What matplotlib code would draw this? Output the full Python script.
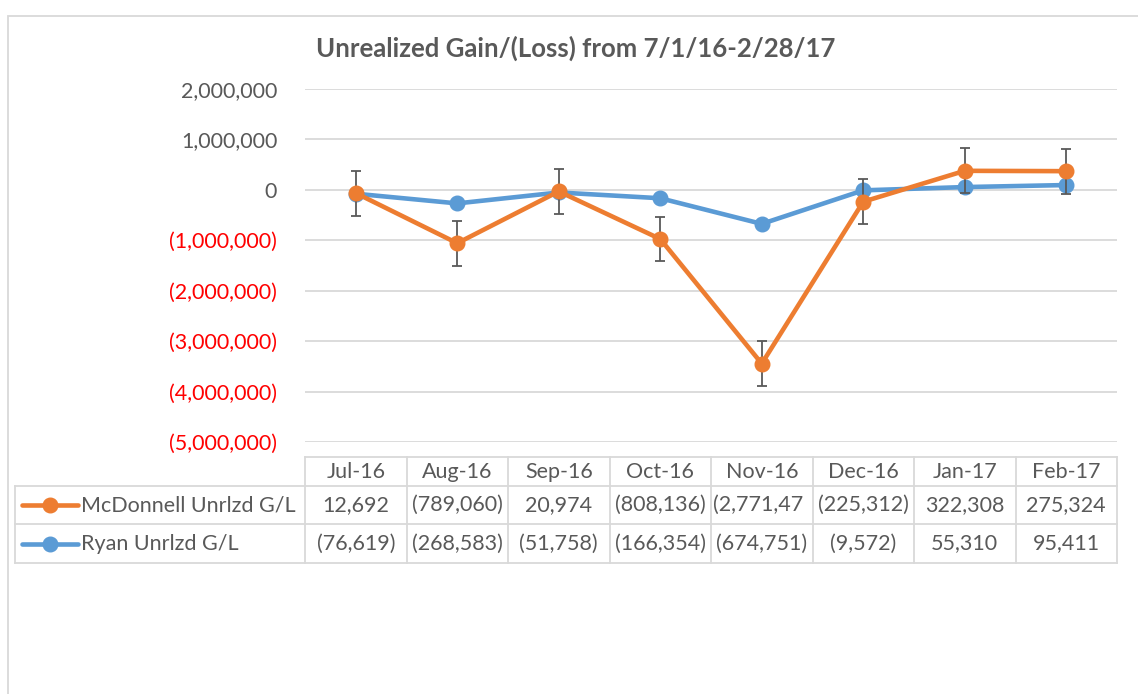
import matplotlib
matplotlib.use("Agg")
import matplotlib.pyplot as plt
import matplotlib.transforms as mtransforms
from matplotlib.lines import Line2D
import numpy as np

# ---------------- data ----------------
months = ["Jul-16", "Aug-16", "Sep-16", "Oct-16", "Nov-16", "Dec-16", "Jan-17", "Feb-17"]
series_names = ["McDonnell Unrlzd G/L", "Ryan Unrlzd G/L"]
mcdonnell = [12692, -789060, 20974, -808136, -2771470, -225312, 322308, 275324]
ryan = [-76619, -268583, -51758, -166354, -674751, -9572, 55310, 95411]
mcd_err = 445000     # error bar half-length
y_ticks = [2000000, 1000000, 0, -1000000, -2000000, -3000000, -4000000, -5000000]
title = "Unrealized Gain/(Loss) from 7/1/16-2/28/17"

# ---------------- style ----------------
ORANGE = "#ED7D31"
BLUE = "#5B9BD5"
GRAY_TXT = "#595959"
GRID = "#D9D9D9"
ERR = "#595959"
FONT = "Lato"
plt.rcParams["font.family"] = [FONT, "DejaVu Sans"]

W, H = 1138, 694
fig = plt.figure(figsize=(W / 100, H / 100), dpi=100)

def fx(px):
    return px / W

def fy(py):
    return 1 - py / H

# plot area
L, R, T, B = 305, 1117, 89, 442
ax = fig.add_axes([fx(L), fy(B), fx(R - L), (B - T) / H])
x = np.arange(len(months))
ax.set_xlim(-0.5, len(months) - 0.5)
ax.set_ylim(-5000000, 2000000)

for s in ax.spines.values():
    s.set_visible(False)
ax.set_yticks(y_ticks)
ax.yaxis.grid(True, color=GRID, lw=1.3)
ax.set_axisbelow(True)
ax.tick_params(axis="y", length=0, pad=20, labelsize=15.5)
ax.set_xticks([])

def fmt(v):
    if v < 0:
        return "({:,})".format(-v)
    return "{:,}".format(v)

ax.set_yticklabels([fmt(v) for v in y_ticks])
for lab, v in zip(ax.get_yticklabels(), y_ticks):
    lab.set_color("#FF0000" if v < 0 else GRAY_TXT)

# stacked line chart (Excel stacked line)
ryan_arr = np.array(ryan, dtype=float)
mcd_stacked = np.array(mcdonnell, dtype=float) + ryan_arr

lw = 3.3
ms = 10.5
ax.plot(x, ryan_arr, color=BLUE, lw=lw, marker="o", ms=ms, zorder=3,
        solid_capstyle="round")
ax.errorbar(x, mcd_stacked, yerr=mcd_err, fmt="none", ecolor=ERR, elinewidth=1.3,
            capsize=3.5, capthick=1.3, zorder=4)
ax.plot(x, mcd_stacked, color=ORANGE, lw=lw, marker="o", ms=ms, zorder=5,
        solid_capstyle="round")

# title
fig.text(fx(576), fy(48), title, ha="center", va="center", fontsize=18.5,
         fontweight="bold", color=GRAY_TXT)

# ---------------- data table ----------------
tbl_top, hdr_bot, r1_bot, r2_bot = 457, 486, 524, 563
leg_left = 15
trans = mtransforms.blended_transform_factory(ax.transData, fig.transFigure)

line_kw = dict(color=GRID, lw=1.3, zorder=1)
fig.add_artist(Line2D([-0.5, len(months) - 0.5], [fy(tbl_top)] * 2, transform=trans, **line_kw))
for ypx in (hdr_bot, r1_bot, r2_bot):
    fig.add_artist(Line2D([fx(leg_left), fx(R)], [fy(ypx)] * 2, transform=fig.transFigure, **line_kw))
for i in range(len(months) + 1):
    fig.add_artist(Line2D([i - 0.5, i - 0.5], [fy(tbl_top), fy(r2_bot)], transform=trans, **line_kw))
fig.add_artist(Line2D([fx(leg_left)] * 2, [fy(hdr_bot), fy(r2_bot)], transform=fig.transFigure, **line_kw))

TS = 15.5
for i, m in enumerate(months):
    fig.text(i, fy((tbl_top + hdr_bot) / 2), m, transform=trans, ha="center",
             va="center", fontsize=TS, color=GRAY_TXT)

rows = [(series_names[0], mcdonnell, ORANGE, (hdr_bot, r1_bot)),
        (series_names[1], ryan, BLUE, (r1_bot, r2_bot))]
cell_texts = []
for name, vals, col, (t, b) in rows:
    yc = fy((t + b) / 2)
    fig.add_artist(Line2D([fx(22), fx(78)], [yc, yc], transform=fig.transFigure,
                          color=col, lw=lw, solid_capstyle="round"))
    fig.add_artist(Line2D([fx(50)], [yc], transform=fig.transFigure, color=col,
                          marker="o", ms=ms, lw=0))
    fig.text(fx(81), yc, name, ha="left", va="center", fontsize=TS, color=GRAY_TXT)
    for i, v in enumerate(vals):
        tx = fig.text(i, yc, fmt(v), transform=trans, ha="center", va="center",
                      fontsize=TS, color=GRAY_TXT)
        cell_texts.append(tx)

# cells too narrow for their text show only its beginning, as Excel does
fig.canvas.draw()
rend = fig.canvas.get_renderer()
colw = ax.transData.transform((1, 0))[0] - ax.transData.transform((0, 0))[0]
for tx in cell_texts:
    s = tx.get_text()
    if tx.get_window_extent(rend).width > colw - 2:
        i = tx.get_position()[0]
        tx.set_ha("left")
        tx.set_x(i - 0.5 + 2 / colw)
        while tx.get_window_extent(rend).width > colw - 4 and len(s) > 1:
            s = s[:-1]
            tx.set_text(s)

# outer chart border
fig.add_artist(plt.Rectangle((fx(8), fy(H + 5)), fx(W + 20), fy(16) - fy(H + 5),
                             transform=fig.transFigure, fill=False, ec=GRID, lw=1.3))

fig.savefig("out.png", dpi=100)
